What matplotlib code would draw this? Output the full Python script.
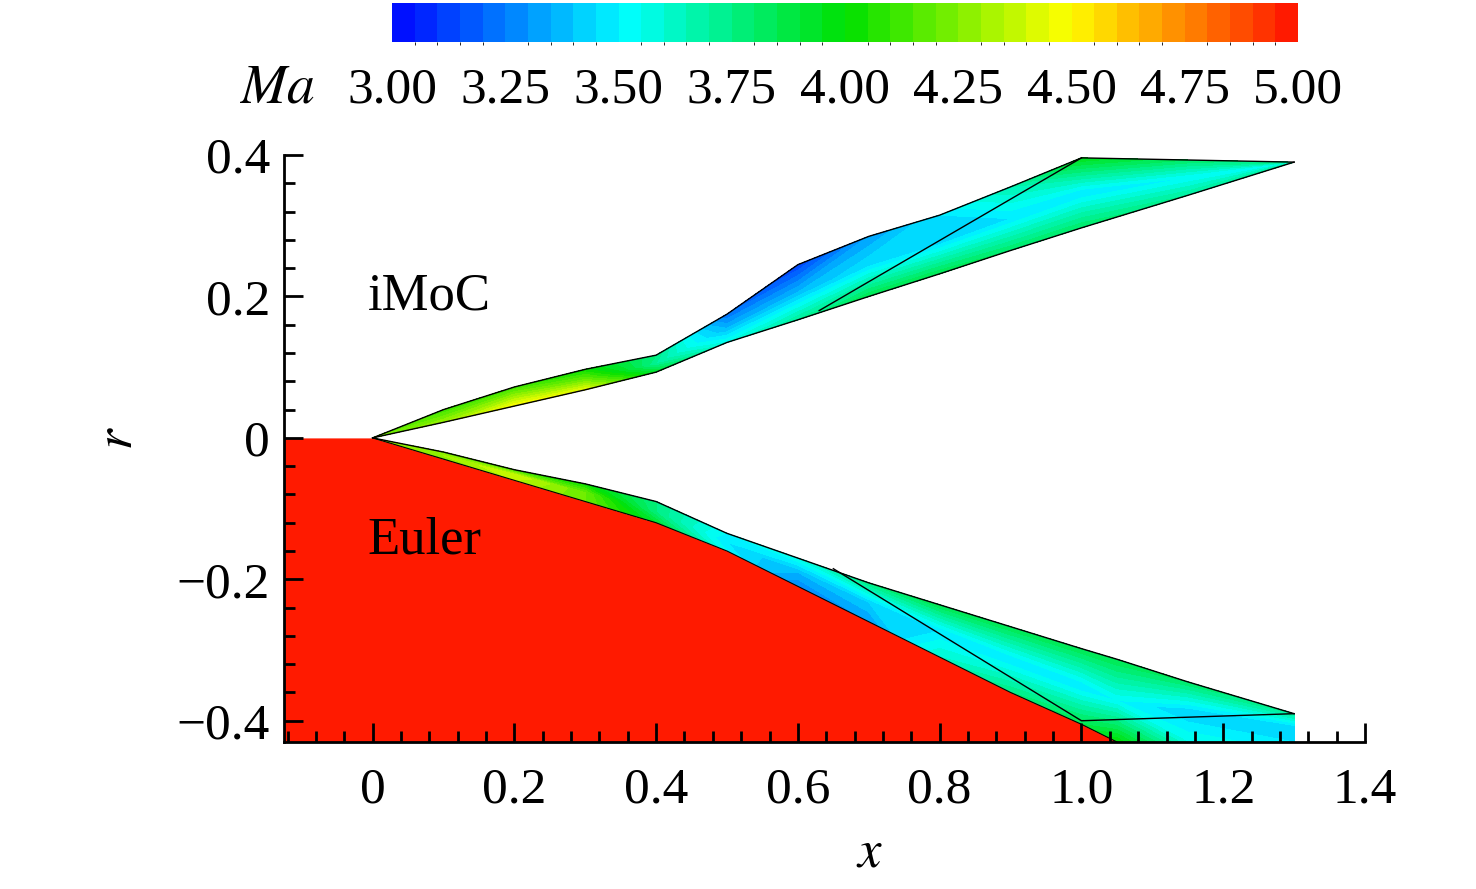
import numpy as np
import matplotlib
matplotlib.use("Agg")
import matplotlib.pyplot as plt
from matplotlib.colors import LinearSegmentedColormap, BoundaryNorm
from matplotlib.cm import ScalarMappable
from matplotlib.ticker import MultipleLocator, FixedFormatter, FixedLocator

plt.rcParams['font.family'] = ['Liberation Serif', 'DejaVu Serif']
plt.rcParams['mathtext.fontset'] = 'stix'

# upper half (iMoC)
xu = [0, 0.1, 0.2, 0.3, 0.4, 0.5, 0.6, 0.7, 0.8, 0.9, 1.0, 1.15, 1.3]
ru_out = [0, 0.04, 0.072, 0.097, 0.117, 0.175, 0.245, 0.285, 0.315, 0.355, 0.396, 0.393, 0.39]
ru_in = [0, 0.022, 0.045, 0.068, 0.093, 0.135, 0.167, 0.2, 0.232, 0.265, 0.297, 0.343, 0.39]
mu = [[4.2, 4.3, 4.5, 4.45, 3.9, 3.55, 3.7, 3.85, 3.85, 3.8, 3.8, 3.7, 3.7],
      [4.2, 4.2, 4.3, 4.2, 3.7, 3.35, 3.35, 3.45, 3.45, 3.45, 3.45, 3.5, 3.55],
      [4.2, 4.1, 4.1, 4.0, 3.75, 3.2, 3.1, 3.3, 3.45, 3.65, 3.95, 3.8, 3.7]]

# lower half (Euler)
xl = [0, 0.1, 0.2, 0.3, 0.4, 0.5, 0.6, 0.7, 0.8, 0.9, 1.0, 1.05, 1.15, 1.3]
rl_shock = [0, -0.02, -0.045, -0.065, -0.09, -0.135, -0.17, -0.205, -0.236, -0.267, -0.298, -0.313, -0.345, -0.39]
rl_body = [0, -0.03, -0.06, -0.09, -0.12, -0.16, -0.21, -0.26, -0.31, -0.36, -0.405, -0.43, -0.43, -0.43]
ml = [[4.3, 4.2, 4.35, 4.2, 3.9, 3.5, 3.25, 3.3, 3.6, 3.75, 3.85, 4.0, 3.55, 3.45],
      [4.3, 4.3, 4.4, 4.2, 3.75, 3.45, 3.35, 3.4, 3.45, 3.45, 3.45, 3.5, 3.4, 3.4],
      [4.3, 4.2, 4.1, 4.0, 3.75, 3.5, 3.55, 3.75, 3.85, 3.85, 3.85, 3.85, 3.8, 3.7]]

ticks = [3.00, 3.25, 3.50, 3.75, 4.00, 4.25, 4.50, 4.75, 5.00]

cmap = LinearSegmentedColormap.from_list('rainbow_small', [
    (0.0, '#0010ff'), (0.25, '#00ffff'), (0.5, '#00e000'),
    (0.75, '#ffff00'), (1.0, '#ff1a00')])
levels = np.linspace(3, 5, 41)

fig = plt.figure(figsize=(14.76, 8.89), dpi=100)
ax = fig.add_axes([0.1924, 0.1654, 0.7324, 0.6602])


def strip(x, r_in, r_out, m):
    x = np.array(x)
    fr = np.array([0.0, 0.5, 1.0])[:, None]
    X = np.repeat(x[None, :], 3, axis=0)
    R = np.array(r_in)[None, :] * (1 - fr) + np.array(r_out)[None, :] * fr
    return X, R, np.array(m)


X, R, M = strip(xu, ru_in, ru_out, mu)
ax.contourf(X, R, M, levels=levels, cmap=cmap, extend='both')
X, R, M = strip(xl, rl_body, rl_shock, ml)
ax.contourf(X, R, M, levels=levels, cmap=cmap, extend='both')

# Euler body
bx = [-0.125] + xl[:12]
by = [0] + rl_body[:12]
ax.fill_between(bx, by, -0.43, color='#ff1a00', lw=0)

# outlines and waves
ax.plot(xu, ru_out, 'k', lw=1)
ax.plot(xu, ru_in, 'k', lw=1)
ax.plot([0.63, 1.0], [0.18, 0.396], 'k', lw=1)
ax.plot(xl, rl_shock, 'k', lw=1)
ax.plot(xl[:12], rl_body[:12], 'k', lw=0.8)
ax.plot([0.65, 1.0, 1.3], [-0.185, -0.40, -0.39], 'k', lw=1)

ax.set_xlim(-0.125, 1.4)
ax.set_ylim(-0.43, 0.4)
for s in ['top', 'right']:
    ax.spines[s].set_visible(False)
for s in ['left', 'bottom']:
    ax.spines[s].set_linewidth(2)
ax.xaxis.set_major_locator(FixedLocator([0, 0.2, 0.4, 0.6, 0.8, 1.0, 1.2, 1.4]))
ax.xaxis.set_major_formatter(FixedFormatter(['0', '0.2', '0.4', '0.6', '0.8', '1.0', '1.2', '1.4']))
ax.xaxis.set_minor_locator(MultipleLocator(0.04))
ax.yaxis.set_major_locator(FixedLocator([-0.4, -0.2, 0, 0.2, 0.4]))
ax.yaxis.set_major_formatter(FixedFormatter(['\u22120.4', '\u22120.2', '0', '0.2', '0.4']))
ax.yaxis.set_minor_locator(MultipleLocator(0.04))
ax.tick_params(which='both', direction='in', width=2, labelsize=37)
ax.tick_params(axis='x', pad=18)
ax.tick_params(axis='y', pad=10)
ax.tick_params(which='major', length=14)
ax.tick_params(which='minor', length=8)
ax.set_xlabel('$x$', fontsize=38)
ax.set_ylabel('$r$', fontsize=38)
ax.xaxis.set_label_coords(0.542, -0.15)
ax.yaxis.set_label_coords(-0.13, 0.518)

ax.text(-0.007, 0.2, 'iMoC', fontsize=38, va='center')
ax.text(-0.007, -0.145, 'Euler', fontsize=38, va='center')

cax = fig.add_axes([0.2656, 0.9528, 0.6138, 0.0439])
sm = ScalarMappable(norm=BoundaryNorm(levels, cmap.N), cmap=cmap)
cb = fig.colorbar(sm, cax=cax, orientation='horizontal', ticks=ticks)
cb.outline.set_visible(False)
cb.ax.tick_params(length=0, labelsize=37, pad=18)
cb.ax.set_xticklabels(['%.2f' % t for t in ticks])
fig.text(0.162, 0.9, '$Ma$', fontsize=40, va='center')

fig.savefig('out.png', dpi=100)
